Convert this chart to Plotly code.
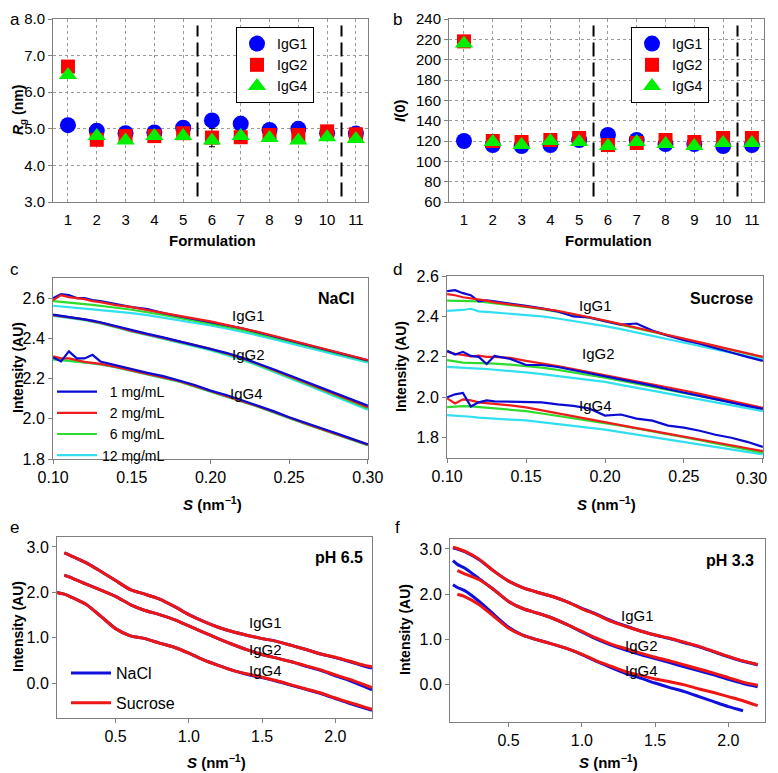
import plotly.graph_objects as go

# The page shows the figure with an 8 px body margin, so the figure is 8 px smaller
# and every reference pixel position is shifted by 8 px.
OFF = 8
W, H = 778 - OFF, 773 - OFF
def px(x): return (x - OFF) / W
def py(y): return 1 - (y - OFF) / H

# ---------------- data ----------------
formulation = [1, 2, 3, 4, 5, 6, 7, 8, 9, 10, 11]
separators = [5.5, 10.5]

rg_igg1 = [5.10, 4.95, 4.88, 4.90, 5.03, 5.23, 5.14, 4.97, 5.00, 4.88, 4.87]
rg_igg2 = [6.70, 4.70, 4.80, 4.80, 4.88, 4.76, 4.77, 4.83, 4.83, 4.93, 4.85]
rg_igg4 = [6.47, 4.80, 4.68, 4.80, 4.80, 4.68, 4.80, 4.75, 4.68, 4.77, 4.72]
rg_err1 = [0.05, 0.05, 0.05, 0.05, 0.05, 0.10, 0.20, 0.05, 0.05, 0.05, 0.05]
rg_err2 = [0.05, 0.05, 0.05, 0.05, 0.05, 0.25, 0.15, 0.05, 0.05, 0.05, 0.05]
rg_err4 = [0.05, 0.05, 0.05, 0.05, 0.05, 0.05, 0.10, 0.05, 0.05, 0.05, 0.05]

i0_igg1 = [120, 116, 115, 116, 121, 126, 121, 117, 117, 115, 116]
i0_igg2 = [218, 120, 119, 121, 123, 116, 118, 121, 119, 123, 123]
i0_igg4 = [216, 119, 116, 120, 119, 115, 119, 117, 115, 118, 118]

s_ticks = [0.10, 0.15, 0.20, 0.25, 0.30]
s_cd = [0.100, 0.105, 0.110, 0.115, 0.120, 0.125, 0.130, 0.140, 0.150, 0.160, 0.170, 0.180,
        0.190, 0.200, 0.210, 0.220, 0.230, 0.240, 0.250, 0.260, 0.270, 0.280, 0.290, 0.300]

# panel c (NaCl)
c_igg1_1 = [2.600, 2.620, 2.615, 2.600, 2.600, 2.590, 2.585, 2.570, 2.555, 2.545, 2.525, 2.510,
            2.495, 2.480, 2.465, 2.450, 2.430, 2.410, 2.390, 2.370, 2.350, 2.330, 2.310, 2.290]
c_igg1_2 = [2.590, 2.615, 2.605, 2.600, 2.595, 2.585, 2.580, 2.565, 2.555, 2.540, 2.525, 2.512,
            2.498, 2.484, 2.468, 2.452, 2.433, 2.413, 2.393, 2.373, 2.353, 2.333, 2.312, 2.292]
c_igg1_6 = [2.585, 2.582, 2.578, 2.574, 2.570, 2.566, 2.562, 2.552, 2.542, 2.530, 2.516, 2.502,
            2.488, 2.474, 2.458, 2.442, 2.424, 2.405, 2.386, 2.366, 2.346, 2.326, 2.306, 2.286]
c_igg1_12 = [2.562, 2.559, 2.556, 2.552, 2.548, 2.544, 2.540, 2.533, 2.525, 2.515, 2.503, 2.491,
             2.478, 2.464, 2.449, 2.433, 2.415, 2.396, 2.376, 2.357, 2.338, 2.318, 2.299, 2.280]
c_igg2_1 = [2.518, 2.512, 2.508, 2.502, 2.494, 2.488, 2.480, 2.460, 2.440, 2.422, 2.405, 2.386,
            2.368, 2.350, 2.328, 2.304, 2.276, 2.246, 2.216, 2.185, 2.155, 2.125, 2.095, 2.065]
c_igg2_2 = [2.515, 2.510, 2.505, 2.500, 2.494, 2.485, 2.478, 2.458, 2.437, 2.420, 2.403, 2.384,
            2.366, 2.348, 2.326, 2.302, 2.274, 2.244, 2.213, 2.182, 2.151, 2.121, 2.090, 2.058]
c_igg2_6 = [2.515, 2.510, 2.505, 2.499, 2.493, 2.485, 2.477, 2.457, 2.436, 2.419, 2.401, 2.382,
            2.364, 2.345, 2.323, 2.299, 2.270, 2.240, 2.209, 2.178, 2.147, 2.116, 2.084, 2.052]
c_igg2_12 = [2.512, 2.507, 2.502, 2.496, 2.490, 2.482, 2.474, 2.454, 2.433, 2.416, 2.398, 2.379,
             2.360, 2.341, 2.318, 2.294, 2.265, 2.235, 2.204, 2.172, 2.141, 2.109, 2.077, 2.045]
c_igg4_1 = [2.305, 2.285, 2.335, 2.300, 2.300, 2.318, 2.285, 2.265, 2.245, 2.228, 2.212, 2.190,
            2.168, 2.140, 2.118, 2.092, 2.066, 2.038, 2.008, 1.982, 1.955, 1.928, 1.900, 1.873]
c_igg4_2 = [2.310, 2.300, 2.300, 2.290, 2.283, 2.278, 2.273, 2.258, 2.241, 2.225, 2.207, 2.188,
            2.163, 2.138, 2.115, 2.091, 2.063, 2.035, 2.005, 1.978, 1.951, 1.925, 1.899, 1.871]
c_igg4_6 = [2.297, 2.293, 2.289, 2.285, 2.281, 2.276, 2.271, 2.256, 2.239, 2.223, 2.205, 2.186,
            2.161, 2.136, 2.113, 2.089, 2.061, 2.033, 2.003, 1.976, 1.949, 1.923, 1.897, 1.869]
c_igg4_12 = [2.295, 2.292, 2.288, 2.284, 2.280, 2.275, 2.270, 2.255, 2.238, 2.222, 2.204, 2.185,
             2.160, 2.135, 2.112, 2.088, 2.060, 2.032, 2.002, 1.975, 1.948, 1.922, 1.896, 1.868]

# panel d (Sucrose)
d_igg1_1 = [2.525, 2.530, 2.515, 2.505, 2.475, 2.480, 2.475, 2.465, 2.452, 2.440, 2.425, 2.400,
            2.395, 2.377, 2.360, 2.365, 2.330, 2.305, 2.283, 2.265, 2.245, 2.222, 2.200, 2.180]
d_igg1_2 = [2.510, 2.505, 2.495, 2.490, 2.485, 2.478, 2.470, 2.460, 2.450, 2.440, 2.428, 2.412,
            2.397, 2.380, 2.362, 2.345, 2.327, 2.308, 2.290, 2.272, 2.254, 2.236, 2.218, 2.200]
d_igg1_6 = [2.478, 2.478, 2.477, 2.476, 2.474, 2.470, 2.466, 2.457, 2.447, 2.436, 2.424, 2.410,
            2.394, 2.377, 2.360, 2.342, 2.324, 2.306, 2.288, 2.270, 2.252, 2.234, 2.216, 2.198]
d_igg1_12 = [2.428, 2.430, 2.432, 2.438, 2.425, 2.423, 2.420, 2.414, 2.408, 2.400, 2.390, 2.378,
             2.366, 2.352, 2.337, 2.321, 2.304, 2.287, 2.270, 2.254, 2.237, 2.220, 2.204, 2.188]
d_igg2_1 = [2.230, 2.212, 2.225, 2.205, 2.200, 2.165, 2.205, 2.190, 2.160, 2.160, 2.150, 2.135,
            2.120, 2.105, 2.090, 2.075, 2.058, 2.040, 2.023, 2.007, 1.990, 1.975, 1.958, 1.943]
d_igg2_2 = [2.226, 2.215, 2.210, 2.203, 2.206, 2.200, 2.200, 2.195, 2.180, 2.168, 2.155, 2.140,
            2.125, 2.112, 2.097, 2.082, 2.066, 2.050, 2.034, 2.017, 2.000, 1.983, 1.966, 1.948]
d_igg2_6 = [2.184, 2.178, 2.172, 2.170, 2.170, 2.169, 2.167, 2.162, 2.156, 2.147, 2.136, 2.124,
            2.110, 2.097, 2.082, 2.067, 2.052, 2.037, 2.022, 2.007, 1.991, 1.975, 1.960, 1.945]
d_igg2_12 = [2.151, 2.148, 2.146, 2.144, 2.142, 2.140, 2.137, 2.130, 2.123, 2.115, 2.106, 2.096,
             2.086, 2.076, 2.062, 2.048, 2.033, 2.018, 2.004, 1.990, 1.976, 1.961, 1.947, 1.932]
d_igg4_1 = [2.000, 2.015, 2.022, 1.955, 1.975, 1.985, 1.980, 1.978, 1.978, 1.975, 1.965, 1.958,
            1.945, 1.910, 1.915, 1.895, 1.885, 1.860, 1.850, 1.835, 1.815, 1.800, 1.780, 1.755]
d_igg4_2 = [1.995, 1.970, 1.990, 1.985, 1.975, 1.972, 1.968, 1.960, 1.950, 1.935, 1.920, 1.905,
            1.890, 1.876, 1.862, 1.848, 1.834, 1.820, 1.808, 1.793, 1.778, 1.763, 1.748, 1.734]
d_igg4_6 = [1.952, 1.955, 1.957, 1.955, 1.952, 1.950, 1.947, 1.940, 1.932, 1.920, 1.908, 1.896,
            1.885, 1.874, 1.860, 1.846, 1.832, 1.817, 1.803, 1.788, 1.772, 1.757, 1.741, 1.726]
d_igg4_12 = [1.912, 1.910, 1.907, 1.904, 1.900, 1.897, 1.894, 1.890, 1.886, 1.877, 1.868, 1.859,
             1.850, 1.840, 1.828, 1.816, 1.803, 1.790, 1.778, 1.766, 1.754, 1.742, 1.730, 1.718]

s_ef = [0.10, 0.12, 0.15, 0.20, 0.30, 0.40, 0.50, 0.60, 0.70, 0.80, 0.90, 1.00, 1.10,
        1.20, 1.30, 1.40, 1.50, 1.60, 1.70, 1.80, 1.90, 2.00, 2.10, 2.20, 2.25]

# panel e (pH 6.5)
e_igg1_nacl = [None, None, 2.87, 2.80, 2.65, 2.46, 2.26, 2.06, 1.96, 1.85, 1.69, 1.51, 1.36,
               1.23, 1.13, 1.05, 0.98, 0.92, 0.83, 0.74, 0.64, 0.56, 0.47, 0.37, 0.33]
e_igg1_suc = [None, None, 2.87, 2.80, 2.65, 2.46, 2.26, 2.06, 1.96, 1.85, 1.69, 1.51, 1.36,
              1.23, 1.13, 1.05, 0.98, 0.92, 0.83, 0.74, 0.64, 0.57, 0.48, 0.39, 0.36]
e_igg2_nacl = [None, None, 2.38, 2.32, 2.18, 2.05, 1.91, 1.73, 1.60, 1.51, 1.40, 1.26, 1.12,
               0.98, 0.85, 0.73, 0.63, 0.55, 0.47, 0.37, 0.28, 0.16, 0.05, -0.08, -0.15]
e_igg2_suc = [None, None, 2.38, 2.32, 2.18, 2.05, 1.91, 1.73, 1.60, 1.51, 1.40, 1.26, 1.12,
              0.98, 0.85, 0.73, 0.63, 0.55, 0.47, 0.38, 0.29, 0.18, 0.08, -0.04, -0.10]
e_igg4_nacl = [2.00, 1.98, 1.96, 1.89, 1.73, 1.47, 1.20, 1.04, 0.98, 0.88, 0.79, 0.66, 0.51,
               0.39, 0.28, 0.19, 0.12, 0.04, -0.05, -0.14, -0.23, -0.34, -0.45, -0.55, -0.60]
e_igg4_suc = [2.00, 1.98, 1.96, 1.89, 1.73, 1.47, 1.20, 1.04, 0.98, 0.88, 0.79, 0.66, 0.51,
              0.39, 0.28, 0.20, 0.13, 0.05, -0.04, -0.13, -0.22, -0.33, -0.43, -0.53, -0.58]

# panel f (pH 3.3)
f_igg1_nacl = [None, 3.02, 3.00, 2.94, 2.76, 2.51, 2.29, 2.14, 2.04, 1.95, 1.83, 1.69, 1.56,
               1.42, 1.30, 1.19, 1.10, 1.02, 0.93, 0.84, 0.73, 0.62, 0.52, 0.44, None]
f_igg1_suc = [None, 3.04, 3.01, 2.95, 2.77, 2.51, 2.29, 2.14, 2.04, 1.95, 1.83, 1.68, 1.55,
              1.40, 1.29, 1.19, 1.10, 1.03, 0.94, 0.85, 0.74, 0.63, 0.53, 0.45, None]
f_igg2_nacl = [None, 2.74, 2.66, 2.58, 2.34, 2.10, 1.84, 1.68, 1.58, 1.47, 1.33, 1.17, 1.01,
               0.88, 0.77, 0.67, 0.58, 0.49, 0.40, 0.31, 0.22, 0.12, 0.03, -0.04, None]
f_igg2_suc = [None, None, 2.52, 2.45, 2.32, 2.10, 1.84, 1.68, 1.58, 1.47, 1.33, 1.18, 1.03,
              0.90, 0.80, 0.70, 0.61, 0.53, 0.44, 0.35, 0.26, 0.16, 0.06, -0.01, None]
f_igg4_nacl = [None, 2.21, 2.15, 2.08, 1.84, 1.55, 1.27, 1.09, 0.99, 0.90, 0.80, 0.67, 0.52,
               0.38, 0.25, 0.15, 0.04, -0.06, -0.15, -0.26, -0.37, -0.48, -0.57, None, None]
f_igg4_suc = [None, None, 2.00, 1.95, 1.77, 1.51, 1.25, 1.09, 0.99, 0.90, 0.80, 0.68, 0.53,
              0.41, 0.29, 0.21, 0.13, 0.07, 0.00, -0.09, -0.17, -0.26, -0.35, -0.46, None]

igg_names = ["IgG1", "IgG2", "IgG4"]
conc_names = ["  1 mg/mL", "  2 mg/mL", "  6 mg/mL", "12 mg/mL"]
buffer_names = ["NaCl", "Sucrose"]

# ---------------- styles ----------------
FONT = "Liberation Sans, Arial, sans-serif"
mk_colors = ["#0000ff", "#ff0000", "#00ee00"]
mk_symbols = ["circle", "square", "triangle-up"]
mk_sizes = [16, 14, 16]
conc_colors = ["#0a0ad2", "#ee1c1c", "#2edb2e", "#30dff0"]
buf_colors = ["#1010dd", "#ee1515"]

fig = go.Figure()

# panels a and b
for i, (rg, err, i0) in enumerate(zip([rg_igg1, rg_igg2, rg_igg4],
                                       [rg_err1, rg_err2, rg_err4],
                                       [i0_igg1, i0_igg2, i0_igg4])):
    fig.add_trace(go.Scatter(
        x=formulation, y=rg, mode="markers", name=igg_names[i],
        marker=dict(color=mk_colors[i], symbol=mk_symbols[i], size=mk_sizes[i], line=dict(width=0)),
        error_y=dict(type="data", array=err, color="black", thickness=1, width=3),
        xaxis="x", yaxis="y", legend="legend"))
    fig.add_trace(go.Scatter(
        x=formulation, y=i0, mode="markers", name=igg_names[i],
        marker=dict(color=mk_colors[i], symbol=mk_symbols[i], size=mk_sizes[i], line=dict(width=0)),
        xaxis="x2", yaxis="y2", legend="legend2"))

# panel c and d
c_sets = [[c_igg1_1, c_igg1_2, c_igg1_6, c_igg1_12],
          [c_igg2_1, c_igg2_2, c_igg2_6, c_igg2_12],
          [c_igg4_1, c_igg4_2, c_igg4_6, c_igg4_12]]
d_sets = [[d_igg1_1, d_igg1_2, d_igg1_6, d_igg1_12],
          [d_igg2_1, d_igg2_2, d_igg2_6, d_igg2_12],
          [d_igg4_1, d_igg4_2, d_igg4_6, d_igg4_12]]
orders = [[3, 2, 0, 1], [3, 2, 1, 0], [3, 2, 1, 0]]
for panel, sets, xa_, ya_ in [("c", c_sets, "x3", "y3"), ("d", d_sets, "x4", "y4")]:
    for g, series in enumerate(sets):
        for k in orders[g]:
            show = (panel == "c" and g == 0)
            fig.add_trace(go.Scatter(
                x=s_cd, y=series[k], mode="lines", name=conc_names[k],
                line=dict(color=conc_colors[k], width=2.2),
                xaxis=xa_, yaxis=ya_, legend="legend3", showlegend=show,
                legendrank=k + 1))

# panel e and f
e_sets = [[e_igg1_nacl, e_igg1_suc], [e_igg2_nacl, e_igg2_suc], [e_igg4_nacl, e_igg4_suc]]
f_sets = [[f_igg1_nacl, f_igg1_suc], [f_igg2_nacl, f_igg2_suc], [f_igg4_nacl, f_igg4_suc]]
for panel, sets, xa_, ya_ in [("e", e_sets, "x5", "y5"), ("f", f_sets, "x6", "y6")]:
    for g, series in enumerate(sets):
        for k in range(2):
            show = (panel == "e" and g == 0)
            fig.add_trace(go.Scatter(
                x=s_ef, y=series[k], mode="lines", name=buffer_names[k],
                line=dict(color=buf_colors[k], width=3, shape="spline", smoothing=0.6),
                xaxis=xa_, yaxis=ya_, legend="legend4", showlegend=show,
                legendgroup=buffer_names[k], legendrank=k + 1))

# ---------------- axes ----------------
frame = dict(showline=True, linecolor="#808080", linewidth=1, mirror=True, zeroline=False,
             automargin=False, ticklabeloverflow="allow",
             tickfont=dict(family=FONT, size=15, color="black"))

def xa(domain, anchor, rng, **kw):
    d = dict(frame); d.update(domain=domain, anchor=anchor, range=rng); d.update(kw); return d

doms = {
    "a": ([px(53), px(368)], [py(202), py(19)]),
    "b": ([px(449), px(764)], [py(202), py(19)]),
    "c": ([px(53), px(368)], [py(459), py(278)]),
    "d": ([px(447), px(763)], [py(458), py(276)]),
    "e": ([px(57), px(372)], [py(718), py(537)]),
    "f": ([px(450), px(765)], [py(722), py(539)]),
}
grid = dict(showgrid=True, gridcolor="#9a9a9a", griddash="dot", gridwidth=1)
tick_out = dict(ticks="outside", ticklen=4, tickcolor="#808080")
big = dict(tickfont=dict(family=FONT, size=16, color="black"))

# the last d tick label sits at the page edge; it is written right-aligned below
d_ticktext = ["0.10", "0.15", "0.20", "0.25", ""]

fig.update_layout(
    xaxis=xa(doms["a"][0], "y", [0.48, 11.42], tickvals=formulation, ticks="", ticklabelstandoff=4, **grid),
    yaxis=xa(doms["a"][1], "x", [3, 8], dtick=1, tickformat=".1f", **grid, **tick_out),
    xaxis2=xa(doms["b"][0], "y2", [0.48, 11.42], tickvals=formulation, ticks="", ticklabelstandoff=4, **grid),
    yaxis2=xa(doms["b"][1], "x2", [60, 240], dtick=20, **grid, **tick_out),
    xaxis3=xa(doms["c"][0], "y3", [0.0999, 0.3001], tickvals=s_ticks, tickformat=".2f", showgrid=False, **tick_out, **big),
    yaxis3=xa(doms["c"][1], "x3", [1.8, 2.7], dtick=0.2, tick0=1.8, tickformat=".1f", showgrid=False, **tick_out, **big),
    xaxis4=xa(doms["d"][0], "y4", [0.0999, 0.3001], tickvals=s_ticks, ticktext=d_ticktext, showgrid=False, **tick_out, **big),
    yaxis4=xa(doms["d"][1], "x4", [1.7, 2.6], dtick=0.2, tick0=1.8, tickformat=".1f", showgrid=False, **tick_out, **big),
    xaxis5=xa(doms["e"][0], "y5", [0.1, 2.25], dtick=0.5, tick0=0, tickformat=".1f", showgrid=False, **tick_out, **big),
    yaxis5=xa(doms["e"][1], "x5", [-0.77, 3.22], dtick=1, tick0=0, tickformat=".1f", showgrid=False, **tick_out, **big),
    xaxis6=xa(doms["f"][0], "y6", [0.1, 2.25], dtick=0.5, tick0=0, tickformat=".1f", showgrid=False, **tick_out, **big),
    yaxis6=xa(doms["f"][1], "x6", [-0.82, 3.22], dtick=1, tick0=0, tickformat=".1f", showgrid=False, **tick_out, **big),
)

# separators
for xref, yref in [("x", "y domain"), ("x2", "y2 domain")]:
    for s in separators:
        fig.add_shape(type="line", xref=xref, yref=yref, x0=s, x1=s, y0=0.03, y1=0.965,
                      line=dict(color="black", width=2, dash="14px,6px"))

# ---------------- legends ----------------
mk_leg = dict(bgcolor="white", bordercolor="black", borderwidth=1,
              font=dict(family=FONT, size=14, color="black"), xanchor="left", yanchor="top",
              itemsizing="trace", itemwidth=30, tracegroupgap=0)
fig.update_layout(
    legend=dict(x=px(236), y=py(27), **mk_leg),
    legend2=dict(x=px(631), y=py(27), **mk_leg),
    legend3=dict(x=px(52), y=py(376), xanchor="left", yanchor="top", bgcolor="rgba(0,0,0,0)",
                 font=dict(family=FONT, size=14, color="black"), itemwidth=40, tracegroupgap=0),
    legend4=dict(x=px(66), y=py(656), xanchor="left", yanchor="top", bgcolor="rgba(0,0,0,0)",
                 font=dict(family=FONT, size=16, color="black"), itemwidth=40, tracegroupgap=6),
)

# ---------------- annotations ----------------
ann = []
def txt(x, y, t, size=15, angle=0, xanchor="center", yanchor="middle", xref="paper", yref="paper", xshift=0):
    ann.append(dict(x=x, y=y, text=t, showarrow=False, textangle=angle, xref=xref, yref=yref,
                    xanchor=xanchor, yanchor=yanchor, xshift=xshift,
                    font=dict(family=FONT, size=size, color="black")))

for letter, (lx, ly) in zip("abcdef", [(8, 8), (391, 8), (8, 258), (391, 258), (8, 516), (393, 516)]):
    txt(px(lx), py(ly), letter, size=17, xanchor="left", yanchor="top")

txt(px(8), py(110), "<b><i>R</i><sub>g</sub> (nm)</b>", size=14, angle=-90, xanchor="left")
txt(px(400), py(110), "<b><i>I</i>(0)</b>", size=15, angle=-90)
txt(px(213), py(240), "<b>Formulation</b>", size=15)
txt(px(608), py(240), "<b>Formulation</b>", size=15)
txt(px(8), py(368), "<b>Intensity (AU)</b>", size=14, angle=-90, xanchor="left")
txt(px(401), py(367), "<b>Intensity (AU)</b>", size=14, angle=-90)
txt(px(8), py(627), "<b>Intensity (AU)</b>", size=14, angle=-90, xanchor="left")
txt(px(405), py(630), "<b>Intensity (AU)</b>", size=14, angle=-90)
txt(px(213), py(503), "<b><i>S</i> (nm<sup>−1</sup>)</b>", size=15)
txt(px(606), py(503), "<b><i>S</i> (nm<sup>−1</sup>)</b>", size=15)
txt(px(217), py(761), "<b><i>S</i> (nm<sup>−1</sup>)</b>", size=15)
txt(px(608), py(761), "<b><i>S</i> (nm<sup>−1</sup>)</b>", size=15)

# last tick label of panel d, right-aligned so that it stays inside the page
txt(s_ticks[-1], py(478), "0.30", size=16, xanchor="right", xref="x4", xshift=6)

txt(px(356), py(298), "<b>NaCl</b>", size=16, xanchor="right")
txt(px(755), py(298), "<b>Sucrose</b>", size=16, xanchor="right")
txt(px(365), py(557), "<b>pH 6.5</b>", size=16, xanchor="right")
txt(px(756), py(560), "<b>pH 3.3</b>", size=16, xanchor="right")

# curve labels (data coordinates)
c_lab = [(0.224, 2.512), (0.224, 2.321), (0.223, 2.127)]
d_lab = [(0.194, 2.455), (0.196, 2.217), (0.194, 1.961)]
e_lab = [(1.52, 1.33), (1.52, 0.74), (1.52, 0.28)]
f_lab = [(1.38, 1.53), (1.41, 0.88), (1.41, 0.32)]
for labs, xr, yr in [(c_lab, "x3", "y3"), (d_lab, "x4", "y4"), (e_lab, "x5", "y5"), (f_lab, "x6", "y6")]:
    for name, (lx, ly) in zip(igg_names, labs):
        txt(lx, ly, name, size=15, xref=xr, yref=yr)

fig.update_layout(
    annotations=ann,
    width=W, height=H, autosize=False,
    margin=dict(l=0, r=0, t=0, b=0, pad=0, autoexpand=False),
    paper_bgcolor="white", plot_bgcolor="white",
    font=dict(family=FONT, color="black"),
)

fig.write_html("out.html")
